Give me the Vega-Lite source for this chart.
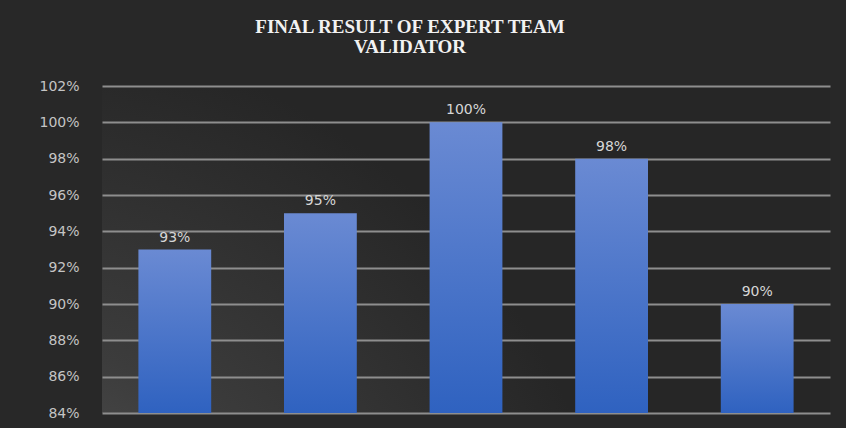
{
  "$schema": "https://vega.github.io/schema/vega-lite/v6.json",
  "width": 728,
  "height": 327,
  "autosize": {"type": "none"},
  "padding": {"left": 102, "top": 86, "right": 16, "bottom": 15},
  "background": "#282828",
  "title": {
    "text": ["FINAL RESULT OF EXPERT TEAM", "VALIDATOR"],
    "font": "Liberation Serif",
    "fontSize": 19,
    "fontWeight": "bold",
    "color": "#f2f2f2",
    "lineHeight": 20,
    "anchor": "middle",
    "frame": "group",
    "dx": -56,
    "offset": 22
  },
  "data": {
    "values": [
      {"validator": "Validator 1", "score": 0.93},
      {"validator": "Validator 2", "score": 0.95},
      {"validator": "Validator 3", "score": 1.00},
      {"validator": "Validator 4", "score": 0.98},
      {"validator": "Validator 5", "score": 0.90}
    ]
  },
  "encoding": {
    "x": {
      "field": "validator",
      "type": "nominal",
      "sort": null,
      "scale": {"paddingInner": 0.5, "paddingOuter": 0.25},
      "axis": null
    },
    "y": {
      "field": "score",
      "type": "quantitative",
      "scale": {"domain": [0.84, 1.02], "zero": false, "nice": false},
      "axis": {
        "title": null,
        "format": ".0%",
        "values": [0.84, 0.86, 0.88, 0.9, 0.92, 0.94, 0.96, 0.98, 1.0, 1.02],
        "domain": false,
        "ticks": false,
        "labelPadding": 23,
        "labelFont": "DejaVu Sans",
        "labelFontSize": 14,
        "labelColor": "#c4c4c4",
        "gridColor": "#8e8e8e",
        "gridWidth": 2,
        "gridOpacity": 1
      }
    }
  },
  "layer": [
    {
      "mark": {
        "type": "bar",
        "color": {
          "gradient": "linear",
          "x1": 0, "y1": 0, "x2": 0, "y2": 1,
          "stops": [
            {"offset": 0, "color": "#6a8ad3"},
            {"offset": 1, "color": "#2f62c0"}
          ]
        }
      },
      "encoding": {
        "y2": {"datum": 0.84}
      }
    },
    {
      "mark": {
        "type": "text",
        "dy": -12,
        "font": "DejaVu Sans",
        "fontSize": 14,
        "color": "#d6d6d6"
      },
      "encoding": {
        "text": {"field": "score", "type": "quantitative", "format": ".0%"}
      }
    }
  ],
  "config": {
    "view": {
      "stroke": null,
      "fill": {
        "gradient": "radial",
        "x1": -0.14, "y1": 1.05, "r1": 0,
        "x2": -0.14, "y2": 1.05, "r2": 0.85,
        "stops": [
          {"offset": 0, "color": "#606060"},
          {"offset": 0.5, "color": "#3c3c3c"},
          {"offset": 1, "color": "#262626"}
        ]
      }
    }
  }
}
